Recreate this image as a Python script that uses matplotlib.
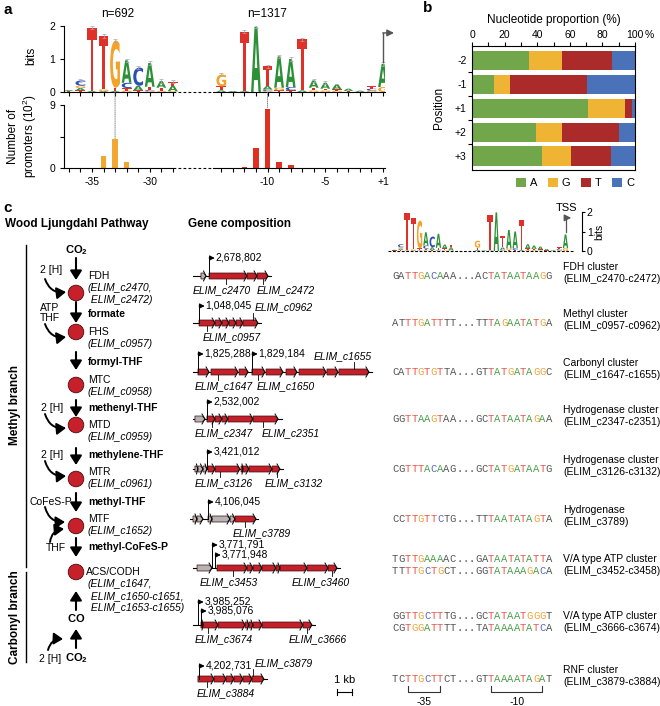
import matplotlib.pyplot as plt
from matplotlib.font_manager import FontProperties
from matplotlib.patches import Circle, ConnectionPatch, FancyArrowPatch, PathPatch, Polygon
from matplotlib.textpath import TextPath
from matplotlib.transforms import Affine2D

plt.rcParams["font.family"] = ["Liberation Sans", "DejaVu Sans"]
plt.rcParams["mathtext.fontset"] = "custom"
plt.rcParams["mathtext.rm"] = "Liberation Sans"
plt.rcParams["mathtext.it"] = "Liberation Sans:italic"
plt.rcParams["mathtext.bf"] = "Liberation Sans:bold"
plt.rcParams["axes.linewidth"] = 0.8

W, H = 660, 706

# ---------------- panel a: promoter logo, bits stacked bottom -> top
LOGO_35 = {
    -37: [("T", 0.03), ("A", 0.03)],
    -36: [("T", 0.05), ("A", 0.07), ("G", 0.07), ("C", 0.16)],
    -35: [("A", 0.03), ("T", 1.92)],
    -34: [("A", 0.03), ("G", 0.05), ("T", 1.62)],
    -33: [("A", 0.03), ("T", 0.1), ("G", 1.43)],
    -32: [("G", 0.04), ("T", 0.08), ("C", 0.16), ("A", 0.68)],
    -31: [("T", 0.05), ("A", 0.14), ("C", 0.55)],
    -30: [("G", 0.03), ("C", 0.03), ("T", 0.1), ("A", 0.72)],
    -29: [("G", 0.03), ("T", 0.1), ("A", 0.2)],
    -28: [("G", 0.03), ("A", 0.16), ("T", 0.12)],
}
LOGO_10 = {
    -14: [("A", 0.05), ("T", 0.12), ("G", 0.36)],
    -13: [("A", 0.03)],
    -12: [("A", 0.03), ("T", 1.8)],
    -11: [("A", 1.98)],
    -10: [("G", 0.03), ("C", 0.05), ("A", 0.1), ("T", 0.6)],
    -9: [("T", 0.05), ("G", 0.08), ("A", 0.95)],
    -8: [("T", 0.05), ("C", 0.1), ("A", 0.85)],
    -7: [("A", 0.05), ("T", 1.55)],
    -6: [("G", 0.05), ("T", 0.08), ("A", 0.22)],
    -5: [("G", 0.05), ("T", 0.05), ("A", 0.18)],
    -4: [("G", 0.04), ("T", 0.04), ("A", 0.15)],
    -3: [("T", 0.03), ("A", 0.07)],
    -2: [("A", 0.04)],
    -1: [("G", 0.04), ("C", 0.06), ("T", 0.08)],
    1: [("G", 0.15), ("A", 0.7)],
}
BAR_POS_35 = [-34, -33, -32]
BAR_VAL_35 = [1.7, 4.1, 0.8]
BAR_POS_10 = [-12, -11, -10, -9, -8]
BAR_VAL_10 = [0.2, 2.9, 8.5, 0.9, 0.4]
N_35, N_10 = 692, 1317

# ---------------- panel b: nucleotide proportion around TSS
POSITIONS = ["-2", "-1", "+1", "+2", "+3"]
PCT_A = [35, 13.5, 71, 39, 43]
PCT_G = [20, 10, 23, 16, 18]
PCT_T = [31, 47, 4, 35, 24]
PCT_C = [14, 29.5, 2, 10, 15]

# ---------------- panel c: pathway
ENZYMES = ["FDH", "FHS", "MTC", "MTD", "MTR", "MTF", "ACS/CODH"]
ENZYME_GENES = [
    ["(ELIM_c2470,", " ELIM_c2472)"],
    ["(ELIM_c0957)"],
    ["(ELIM_c0958)"],
    ["(ELIM_c0959)"],
    ["(ELIM_c0961)"],
    ["(ELIM_c1652)"],
    ["(ELIM_c1647,", " ELIM_c1650-c1651,", " ELIM_c1653-c1655)"],
]
METABOLITES = ["formate", "formyl-THF", "methenyl-THF", "methylene-THF", "methyl-THF", "methyl-CoFeS-P"]
COFACTORS = ["2 [H]", "ATP\nTHF", "2 [H]", "2 [H]", "CoFeS-P", "THF", "2 [H]"]

# ---------------- panel c: gene clusters (kb from row origin)
GENE_ROW_Y = [276, 323, 372, 419, 469, 519, 568, 625, 679]
BACKBONE = [(0, 5.2), (0, 4.5), (0, 11.9), (0, 5.9), (0, 6.0), (-0.2, 4.35), (0, 9.8), (0, 8.1), (0.3, 4.9)]
GENES = [
    [(0.53, 0.87, "g"), (1.07, 3.6, "r"), (3.6, 4.27, "r"), (4.27, 5.0, "r")],
    [(0.4, 1.47, "r"), (1.47, 1.93, "r"), (1.93, 2.4, "r"), (2.4, 2.87, "r"), (2.87, 3.33, "r"),
     (3.33, 4.33, "r")],
    [(0.33, 1.07, "r"), (1.2, 3.0, "r"), (3.07, 3.67, "r"), (3.93, 4.8, "r"), (4.87, 6.0, "r"),
     (6.2, 6.93, "r"), (7.07, 8.87, "r"), (8.93, 9.67, "r"), (9.73, 11.73, "r")],
    [(0.13, 0.8, "g"), (0.93, 1.47, "r"), (1.47, 1.93, "r"), (1.93, 2.33, "r"), (2.33, 4.0, "r"),
     (4.0, 5.67, "r")],
    [(0.13, 0.33, "g"), (0.33, 0.67, "g"), (0.67, 0.93, "g"), (1.0, 1.47, "r"), (1.47, 3.13, "r"),
     (3.2, 3.33, "r"), (3.33, 3.73, "r"), (3.73, 5.27, "r"), (5.27, 5.8, "r")],
    [(0.0, 0.27, "g"), (0.27, 0.67, "g"), (1.0, 1.27, "g"), (1.27, 2.47, "g"), (2.47, 2.8, "g"),
     (2.8, 4.2, "r")],
    [(0.27, 1.27, "g"), (1.6, 3.6, "r"), (3.6, 4.0, "r"), (4.0, 4.6, "r"), (4.6, 5.53, "r"),
     (5.53, 5.8, "r"), (5.8, 7.6, "r"), (7.6, 9.0, "r"), (9.0, 9.6, "r")],
    [(0.53, 0.67, "r"), (0.67, 1.67, "r"), (1.67, 3.47, "r"), (3.47, 3.73, "r"), (3.73, 4.0, "r"),
     (4.0, 4.6, "r"), (4.6, 7.33, "r"), (7.33, 7.93, "r")],
    [(0.33, 1.4, "r"), (1.4, 2.2, "r"), (2.2, 2.73, "r"), (2.73, 3.33, "r"), (3.33, 3.93, "r"),
     (3.93, 4.73, "r")],
]
PROMOTERS = [
    [(1.07, "2,678,802", 18)],
    [(0.4, "1,048,045", 17)],
    [(0.33, "1,825,288", 18), (3.93, "1,829,184", 18)],
    [(0.93, "2,532,002", 17)],
    [(0.93, "3,421,012", 17)],
    [(1.0, "4,106,045", 17)],
    [(1.27, "3,771,791", 23), (1.47, "3,771,948", 13)],
    [(0.33, "3,985,252", 23), (0.53, "3,985,076", 14)],
    [(0.4, "4,202,731", 13)],
]
GENE_TAGS = [
    [("ELIM_c2470", 2.2, 0.0, "b"), ("ELIM_c2472", 4.67, 4.27, "b")],
    [("ELIM_c0957", 0.93, 0.67, "b"), ("ELIM_c0962", 4.0, 4.13, "t")],
    [("ELIM_c1647", 1.67, 0.13, "b"), ("ELIM_c1650", 4.33, 4.27, "b"), ("ELIM_c1655", 10.73, 8.07, "t")],
    [("ELIM_c2347", 1.27, 0.13, "b"), ("ELIM_c2351", 4.67, 4.6, "b")],
    [("ELIM_c3126", 1.8, 0.13, "b"), ("ELIM_c3132", 5.6, 4.8, "b")],
    [("ELIM_c3789", 3.47, 2.67, "b")],
    [("ELIM_c3453", 2.67, 0.47, "b"), ("ELIM_c3460", 9.27, 6.6, "b")],
    [("ELIM_c3674", 1.0, 0.13, "b"), ("ELIM_c3666", 7.6, 6.4, "b")],
    [("ELIM_c3884", 0.93, 0.27, "b"), ("ELIM_c3879", 4.0, 4.13, "t")],
]

# ---------------- panel c: promoter sequences
SEQS = [
    ["GATTGACAAA...ACTATAATAAGG"],
    ["ATTTGATTTT...TTTAGAATATGA"],
    ["CATTGTGTTA...GTTATGATAGGC"],
    ["GGTTAAGTAA...GCTATAATAGAA"],
    ["CGTTTACAAG...GCTATGATAATG"],
    ["CCTTGTTCTG...TTTAATATAGTA"],
    ["TGTTGAAAAC...GATAATATATTA", "TTTTGCTGCT...GGTATAAAGACA"],
    ["GGTTGCTTTG...GCTATAATGGGT", "CGTGGATTTT...TATAAAATATCA"],
    ["TCTTGCTTCT...GTTAAAATAGAT"],
]
CLUSTERS = [
    ("FDH cluster", "(ELIM_c2470-c2472)"),
    ("Methyl cluster", "(ELIM_c0957-c0962)"),
    ("Carbonyl cluster", "(ELIM_c1647-c1655)"),
    ("Hydrogenase cluster", "(ELIM_c2347-c2351)"),
    ("Hydrogenase cluster", "(ELIM_c3126-c3132)"),
    ("Hydrogenase", "(ELIM_c3789)"),
    ("V/A type ATP cluster", "(ELIM_c3452-c3458)"),
    ("V/A type ATP cluster", "(ELIM_c3666-c3674)"),
    ("RNF cluster", "(ELIM_c3879-c3884)"),
]

LOGO_COLORS = {"A": "#2d9038", "C": "#2a4fb5", "G": "#f3a22a", "T": "#e0302a"}
SEQ_COLORS = {"A": "#4c9e4c", "C": "#5464c2", "G": "#f0a43a", "T": "#e8574c"}
NT_COLORS = {"A": "#72a64a", "G": "#efb434", "T": "#ab2a2a", "C": "#4a72b8"}
LETTER_FP = FontProperties(family="DejaVu Sans", weight="bold")


def xd(pos):
    # display coordinate on the broken logo axis
    if pos <= -28:
        return float(pos)
    if pos < 0:
        return pos - 9.8
    return pos - 10.8


def px_axes(fig, x0, y0, x1, y1):
    return fig.add_axes([x0 / W, 1 - y1 / H, (x1 - x0) / W, (y1 - y0) / H])


def draw_letter(ax, ch, x, y0, h, width):
    tp = TextPath((0, 0), ch, size=1, prop=LETTER_FP)
    bb = tp.get_extents()
    tr = (Affine2D().translate(-bb.x0, -bb.y0)
          .scale(width / bb.width, h / bb.height)
          .translate(x - width / 2, y0))
    ax.add_patch(PathPatch(tr.transform_path(tp), fc=LOGO_COLORS[ch], ec="none", lw=0))


def draw_logo(ax, width, errors=True):
    for stacks in (LOGO_35, LOGO_10):
        for pos, stack in stacks.items():
            y = 0.0
            for ch, h in stack:
                draw_letter(ax, ch, xd(pos), y, h, width)
                y += h
            if errors and y > 0.25:
                ax.errorbar(xd(pos), y, yerr=0.05, fmt="none", ecolor="#a8a8a8",
                            elinewidth=0.5, capsize=1.5, capthick=0.5)


def broken_baseline(ax, x0, x1, lw=0.8):
    tr = ax.get_xaxis_transform()
    ax.plot([x0, -28], [0, 0], color="k", lw=lw, transform=tr, clip_on=False)
    ax.plot([-28, -24.5], [0, 0], color="k", lw=lw, ls=(0, (2.5, 2)), transform=tr, clip_on=False)
    ax.plot([-24.5, x1], [0, 0], color="k", lw=lw, transform=tr, clip_on=False)


def tss_arrow(ax, y0, y1, dx, lw):
    x = xd(1)
    ax.plot([x, x], [y0, y1], color="#555555", lw=lw, clip_on=False)
    ax.annotate("", xy=(x + dx, y1), xytext=(x - 0.02, y1), annotation_clip=False,
                arrowprops=dict(arrowstyle="-|>,head_length=0.4,head_width=0.2", color="#555555",
                                lw=lw, shrinkA=0, shrinkB=0))


fig = plt.figure(figsize=(W / 100, H / 100), dpi=100)
ov = fig.add_axes([0, 0, 1, 1])
ov.set_xlim(0, W)
ov.set_ylim(H, 0)
ov.axis("off")

ov.text(3, 10, "a", fontsize=11, fontweight="bold", va="center")
ov.text(423, 8, "b", fontsize=11, fontweight="bold", va="center")
ov.text(3, 208, "c", fontsize=11, fontweight="bold", va="center")

# ---------------- panel a
XL = (-37.42, -9.63)
all_pos = list(LOGO_35) + list(LOGO_10)
tick_x = [xd(p) for p in all_pos]

axL = px_axes(fig, 64, 26, 385, 92)
axL.set_xlim(*XL)
axL.set_ylim(0, 2)
draw_logo(axL, 0.85)
for s in ("top", "right", "bottom"):
    axL.spines[s].set_visible(False)
axL.set_yticks([0, 1, 2])
axL.set_xticks(tick_x, [""] * len(tick_x))
axL.tick_params(labelsize=7.5, length=3, width=0.8)
axL.set_ylabel("bits", fontsize=8.5)
axL.yaxis.set_label_coords(-0.082, 0.55)
broken_baseline(axL, XL[0], XL[1])
axL.text(xd(-33) + 0.2, 2.36, f"n={N_35}", ha="center", va="center", fontsize=8.5)
axL.text(xd(-10), 2.36, f"n={N_10}", ha="center", va="center", fontsize=8.5)
tss_arrow(axL, 0.92, 1.79, 0.95, 1.0)

axB = px_axes(fig, 64, 105, 385, 168)
axB.set_xlim(*XL)
axB.set_ylim(0, 9)
axB.bar([xd(p) for p in BAR_POS_35], BAR_VAL_35, width=0.5, color="#f0a830")
axB.bar([xd(p) for p in BAR_POS_10], BAR_VAL_10, width=0.5, color="#e0301f")
for s in ("top", "right", "bottom"):
    axB.spines[s].set_visible(False)
show = {-35: "-35", -30: "-30", -10: "-10", -5: "-5", 1: "+1"}
axB.set_xticks(tick_x, [show.get(p, "") for p in all_pos])
axB.set_yticks([0, 4.5, 9], ["0", "", "9"])
axB.tick_params(labelsize=7.5, length=3, width=0.8)
axB.set_ylabel("Number of\npromoters (10$^2$)", fontsize=8.5, linespacing=1.1)
axB.yaxis.set_label_coords(-0.078, 0.5)
broken_baseline(axB, XL[0], XL[1])
for p, v in ((-33, BAR_VAL_35[1]), (-10, BAR_VAL_10[2])):
    fig.add_artist(ConnectionPatch((xd(p), 0), (xd(p), v), "data", "data", axesA=axL, axesB=axB,
                                   color="#777777", lw=0.6, ls=(0, (1, 1.2))))

# ---------------- panel b
axN = px_axes(fig, 472, 46, 635, 170)
yy = range(len(POSITIONS))
left = [0.0] * len(POSITIONS)
for nt, vals in (("A", PCT_A), ("G", PCT_G), ("T", PCT_T), ("C", PCT_C)):
    axN.barh(yy, vals, left=left, height=0.82, color=NT_COLORS[nt], label=nt)
    left = [l + v for l, v in zip(left, vals)]
axN.set_xlim(0, 100)
axN.set_ylim(len(POSITIONS) - 0.43, -0.6)
axN.xaxis.tick_top()
axN.xaxis.set_label_position("top")
axN.set_xticks(range(0, 101, 20), ["0", "20", "40", "60", "80", "100"])
axN.set_xticks(range(0, 101, 10), minor=True)
axN.set_yticks(list(yy), POSITIONS)
axN.set_yticks([0.5, 1.5, 2.5, 3.5], minor=True)
axN.tick_params(axis="y", which="major", length=0, labelsize=7.5, pad=4)
axN.tick_params(axis="y", which="minor", length=3, width=0.8)
axN.tick_params(axis="x", which="both", length=3, width=0.8, labelsize=7.5, pad=1.5)
axN.set_xlabel("Nucleotide proportion (%)", fontsize=8.5, labelpad=5)
axN.set_ylabel("Position", fontsize=8.5)
axN.yaxis.set_label_coords(-0.165, 0.5)
axN.annotate("%", xy=(100, 1), xycoords=("data", "axes fraction"), xytext=(7, 4.3),
             textcoords="offset points", fontsize=7.5, va="bottom")
axN.legend(loc="upper right", bbox_to_anchor=(1.03, -0.02), ncol=4, frameon=False, fontsize=8,
           handlelength=0.9, handleheight=0.9, handletextpad=0.4, columnspacing=0.9, borderpad=0)

# ---------------- panel c: pathway
ov.text(5, 224, "Wood Ljungdahl Pathway", fontsize=8.5, fontweight="bold", va="center")
ov.text(188, 224, "Gene composition", fontsize=8.5, fontweight="bold", va="center")

node_y = [293, 332, 385, 425, 479, 526, 572]
name_y = [276, 332, 380, 425, 472, 519, 572]
met_y = [314, 362, 408, 455, 502, 547]
down = [(258, 280), (302, 323), (352, 370), (400, 417), (448, 465), (493, 512), (538, 557)]
cof_xy = [(51, 270), (50, 313), (52, 408), (52, 455), (51, 502), (56, 548), (50, 659)]
curves = [((45, 279), (66, 292), 0.4), ((45, 324), (66, 337), 0.4), ((45, 414), (66, 428), 0.4),
          ((45, 461), (66, 476), 0.4), ((45, 507), (65, 522), 0.4), ((50, 542), (64, 529), -0.4),
          ((48, 650), (63, 639), -0.4)]


def path_arrow(p0, p1, rad=0.0, lw=1.5):
    ov.add_patch(FancyArrowPatch(p0, p1, arrowstyle="-|>,head_length=0.55,head_width=0.35",
                                 mutation_scale=10, lw=lw, color="k", shrinkA=0, shrinkB=0,
                                 connectionstyle=f"arc3,rad={rad}"))


ov.plot([26, 26], [245, 567], color="k", lw=1)
ov.plot([26, 26], [572, 662], color="k", lw=1)
ov.text(15, 405, "Methyl branch", rotation=90, fontsize=8.5, fontweight="bold", ha="center", va="center")
ov.text(15, 617, "Carbonyl branch", rotation=90, fontsize=8.5, fontweight="bold", ha="center", va="center")

ov.text(76, 250, r"$\mathbf{CO_2}$", fontsize=8, ha="center", va="center")
for y0, y1 in down:
    path_arrow((76, y0), (76, y1))
for y, nm, genes, ty in zip(node_y, ENZYMES, ENZYME_GENES, name_y):
    ov.add_patch(Circle((76, y), 7.8, fc="#c8202a", ec="#4a0c0c", lw=0.6))
    tx = 86 if nm == "ACS/CODH" else 88
    ov.text(tx, ty, nm, fontsize=7.5, va="center")
    for k, g in enumerate(genes):
        ov.text(88, ty + 12 * (k + 1), g, fontsize=7.5, style="italic", va="center")
for y, m in zip(met_y, METABOLITES):
    ov.text(88, y, m, fontsize=7.5, fontweight="bold", va="center")
for (x, y), c in zip(cof_xy, COFACTORS):
    ov.text(x, y, c, fontsize=7.5, ha="center", va="center", linespacing=0.95)
for p0, p1, rad in curves:
    path_arrow(p0, p1, rad, lw=1.4)
path_arrow((76, 610), (76, 591))
ov.text(76, 618, r"$\mathbf{CO}$", fontsize=8, ha="center", va="center")
path_arrow((76, 648), (76, 629))
ov.text(76, 658, r"$\mathbf{CO_2}$", fontsize=8, ha="center", va="center")

# ---------------- panel c: gene clusters
axG = px_axes(fig, 180, 200, 385, 706)
axG.set_xlim(-13 / 15, 205 / 15 - 13 / 15)
axG.set_ylim(706, 200)
axG.axis("off")
GENE_FILL = {"r": "#c4202a", "g": "#b4b4b4"}
for y, bb, genes, proms, tags in zip(GENE_ROW_Y, BACKBONE, GENES, PROMOTERS, GENE_TAGS):
    axG.plot(bb, [y, y], color="k", lw=0.8, zorder=1)
    for x0, x1, c in genes:
        tip = min(0.2, (x1 - x0) * 0.5)
        axG.add_patch(Polygon([(x0, y - 3), (x1 - tip, y - 3), (x1, y), (x1 - tip, y + 3), (x0, y + 3)],
                              closed=True, fc=GENE_FILL[c], ec="#3a0c0c", lw=0.5, zorder=2))
        axG.plot([x1 - tip, x1, x1 - tip], [y - 5, y, y + 5], color="k", lw=0.7, zorder=3)
    for x, lab, rise in proms:
        axG.plot([x, x], [y, y - rise], color="k", lw=0.7, zorder=3)
        axG.annotate("", xy=(x + 0.38, y - rise), xytext=(x, y - rise),
                     arrowprops=dict(arrowstyle="-|>,head_length=0.3,head_width=0.15", lw=0.7,
                                     color="k", shrinkA=0, shrinkB=0))
        axG.text(x + 0.42, y - rise, lab, fontsize=7.5, va="center")
    for name, tick, tx, side in tags:
        if side == "b":
            axG.plot([tick, tick], [y + 3, y + 8], color="k", lw=0.6)
            axG.text(tx, y + 14.5, name, fontsize=7.5, style="italic", va="center")
        else:
            axG.plot([tick, tick], [y - 3, y - 10], color="k", lw=0.6)
            axG.text(tx, y - 16, name, fontsize=7.5, style="italic", va="center")
# 1 kb scale bar
axG.plot([9.6, 10.6], [692, 692], color="k", lw=0.8)
for xb in (9.6, 10.6):
    axG.plot([xb, xb], [689, 695], color="k", lw=0.8)
axG.text(10.1, 680, "1 kb", fontsize=8, ha="center", va="center")

# ---------------- panel c: small logo
axS = px_axes(fig, 388, 212, 582, 251)
axS.set_xlim(-35 - 19 / 6.29, -35 + 175 / 6.29)
axS.set_ylim(0, 2)
draw_logo(axS, 0.85, errors=False)
for s in ("top", "left", "bottom"):
    axS.spines[s].set_visible(False)
axS.yaxis.tick_right()
axS.yaxis.set_label_position("right")
axS.set_yticks([0, 1, 2])
axS.set_xticks([])
axS.tick_params(labelsize=7.5, length=2.5, width=0.8, pad=1)
axS.set_ylabel("bits", fontsize=7.5, labelpad=1)
axS.plot([-38.0, -8.4], [0, 0], color="k", lw=0.8, ls=(0, (2.5, 1.5)), clip_on=False)
tss_arrow(axS, 0.95, 1.7, 0.9, 0.9)
axS.text(xd(1) + 0.1, 2.22, "TSS", fontsize=8, ha="center", va="center")

# ---------------- panel c: sequences
SEQ_X0, CW = 392, 6.4
for yc, seqs, (n1, n2) in zip(GENE_ROW_Y, SEQS, CLUSTERS):
    ys = [yc] if len(seqs) == 1 else [yc - 9, yc + 3]
    for s, y in zip(seqs, ys):
        for j, ch in enumerate(s):
            colored = 2 <= j <= 7 or 15 <= j <= 23
            col = SEQ_COLORS.get(ch, "#555555") if colored else "#555555"
            ov.text(SEQ_X0 + (j + 0.5) * CW, y, ch, family="Liberation Mono", fontsize=7.6,
                    color=col, ha="center", va="center")
    ov.text(563, yc - 9, n1, fontsize=7.5, va="center")
    ov.text(563, yc + 3, n2, fontsize=7.5, va="center")

for j0, j1, lab in ((2, 7, "-35"), (15, 23, "-10")):
    xa = SEQ_X0 + (j0 + 0.5) * CW
    xb = SEQ_X0 + (j1 + 0.5) * CW
    ov.plot([xa, xa, xb, xb], [686, 692, 692, 686], color="#333333", lw=0.8)
    ov.text((xa + xb) / 2, 702, lab, fontsize=7.5, ha="center", va="center")

fig.savefig("out.png", dpi=100)
